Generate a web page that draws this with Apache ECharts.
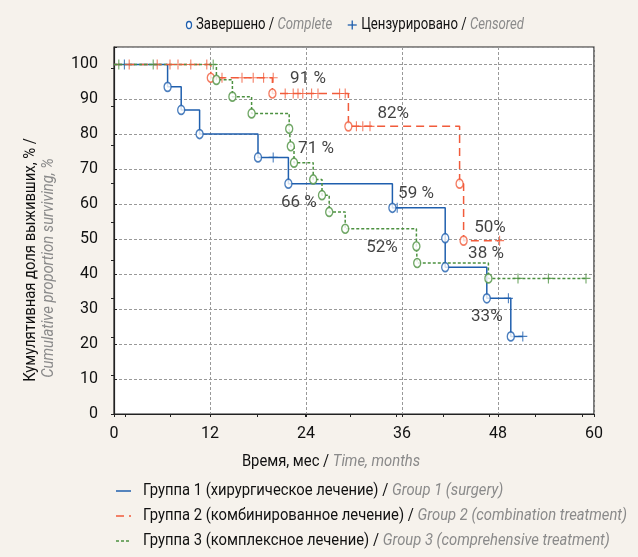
<!DOCTYPE html>
<html>
<head>
<meta charset="utf-8">
<script src="https://cdn.jsdelivr.net/npm/echarts@6/dist/echarts.min.js"></script>
<style>
  html, body { margin: 0; padding: 0; background: #f6f2ec; }
  #chart { width: 638px; height: 557px; }
</style>
</head>
<body>
<div id="chart"></div>
<script>
const FONT = 'Roboto, sans-serif';

// Group 1 (surgery): event times / survival after each event
const g1Time = [0, 6.7, 8.4, 10.7, 18.0, 21.8, 34.8, 41.4, 41.4, 46.6, 49.6];
const g1Surv = [100, 93.6, 87.0, 80.1, 73.4, 65.9, 59.0, 50.3, 42.0, 33.1, 22.2];
const g1Cens = [[1.3, 100], [19.9, 73.4], [35.4, 59.0], [49.3, 33.1], [51.1, 22.2]];

// Group 2 (combination treatment)
const g2Time = [0, 12.1, 19.8, 29.3, 43.2, 43.7];
const g2Surv = [100, 96.2, 91.7, 82.3, 65.9, 49.6];
const g2Cens = [[1.9, 100], [5.4, 100], [7.0, 100], [8.0, 100], [9.6, 100], [11.6, 100],
  [13.5, 96.2], [16.0, 96.2], [17.4, 96.2], [18.7, 96.2], [19.9, 96.2],
  [21.4, 91.7], [22.4, 91.7], [23.0, 91.7], [23.6, 91.7], [24.7, 91.7], [25.5, 91.7],
  [28.2, 91.7], [28.9, 91.7], [30.3, 82.3], [31.1, 82.3], [32.0, 82.3], [48.2, 49.6]];

// Group 3 (comprehensive treatment)
const g3Time = [0, 12.8, 14.8, 17.2, 21.9, 22.1, 22.5, 24.9, 26.0, 26.9, 28.9, 37.8, 37.9, 46.8];
const g3Surv = [100, 95.6, 90.8, 86.0, 81.6, 76.6, 71.9, 67.1, 62.6, 57.8, 53.0, 48.0, 43.2, 38.8];
const g3Cens = [[0.6, 100], [4.9, 100], [12.4, 100], [50.5, 38.8], [54.3, 38.8], [59.0, 38.8]];

// percentage annotations
const noteText = ['91 %', '82%', '71 %', '66 %', '59 %', '52%', '50%', '38 %', '33%'];
const noteX = [24.25, 34.9, 25.25, 23.1, 37.75, 33.5, 47.0, 46.5, 46.6];
const noteY = [95.8, 85.8, 75.75, 60.5, 63.1, 47.6, 53.4, 45.9, 27.8];

const groupRu = ['Группа 1 (хирургическое лечение) / ', 'Группа 2 (комбинированное лечение) / ', 'Группа 3 (комплексное лечение) / '];
const groupEn = ['Group 1 (surgery)', 'Group 2 (combination treatment)', 'Group 3 (comprehensive treatment)'];
const colors = ['#1f5fae', '#f15b3b', '#4c9140'];
const dashes = ['solid', [8, 5], [3, 2]];

const groups = [
  { t: g1Time, s: g1Surv, c: g1Cens },
  { t: g2Time, s: g2Surv, c: g2Cens },
  { t: g3Time, s: g3Surv, c: g3Cens }
];

const PLUS = 'path://M-0.6,-5L0.6,-5L0.6,-0.6L5,-0.6L5,0.6L0.6,0.6L0.6,5L-0.6,5L-0.6,0.6L-5,0.6L-5,-0.6L-0.6,-0.6Z';

const series = [];
groups.forEach((g, i) => {
  const pts = g.t.map((x, k) => [x, g.s[k]]);
  const endT = Math.max(...g.c.map(p => p[0]));
  pts.push([endT, g.s[g.s.length - 1]]);
  series.push({
    name: 'g' + (i + 1),
    type: 'line',
    step: 'end',
    symbol: 'none',
    data: pts,
    z: 2 + i,
    lineStyle: { color: colors[i], width: 1.5, type: dashes[i] }
  });
});
groups.forEach((g, i) => {
  series.push({
    type: 'scatter',
    symbol: PLUS,
    symbolSize: [9, 10],
    data: g.c,
    z: 6,
    itemStyle: { color: colors[i] }
  });
  series.push({
    type: 'scatter',
    symbol: 'circle',
    symbolSize: [7, 9],
    data: g.t.slice(1).map((x, k) => [x, g.s[k + 1]]),
    z: 7,
    itemStyle: { color: '#fff', borderColor: colors[i], borderWidth: 1.5 }
  });
});
series.push({
  type: 'scatter',
  symbolSize: 0,
  z: 8,
  data: noteText.map((n, k) => ({ name: n, value: [noteX[k], noteY[k]] })),
  label: { show: true, position: 'inside', formatter: '{b}', color: '#111', fontSize: 17, fontFamily: FONT }
});

// the reference uses a condensed face: squeeze the titles
const ctx = document.createElement('canvas').getContext('2d');
function textW(s, italic) {
  ctx.font = (italic ? 'italic ' : '') + '16px ' + FONT;
  return ctx.measureText(s).width;
}
const SQ = 484 / (textW(groupRu[1], false) + textW(groupEn[1], true));
const SQ_TOP = SQ * 0.89;

function mixed(ru, en, x, y, align, rot, sq) {
  return {
    type: 'text', x: x, y: y, rotation: rot || 0, scaleX: sq || SQ,
    style: {
      text: '{a|' + ru + '}' + (en ? '{b|' + en + '}' : ''), align: align, verticalAlign: 'middle',
      rich: {
        a: { fill: '#111', fontSize: 16, fontFamily: FONT },
        b: { fill: '#8a8a8a', fontSize: 16, fontStyle: 'italic', fontFamily: FONT }
      }
    }
  };
}
function grey(en, x, y, rot) {
  return {
    type: 'text', x: x, y: y, rotation: rot || 0, scaleX: SQ,
    style: { text: en, align: 'center', verticalAlign: 'middle', fill: '#8a8a8a', fontSize: 16, fontStyle: 'italic', fontFamily: FONT }
  };
}

const legendY = [491, 516, 541];
const doneEnd = 196 + SQ_TOP * (textW('Завершено / ', false) + textW('Complete', true));
const plusX = doneEnd + 20;
const graphics = [
  { type: 'ellipse', shape: { cx: 189, cy: 25, rx: 2.5, ry: 3.5 }, style: { fill: '#fff', stroke: colors[0], lineWidth: 1.3 } },
  mixed('Завершено / ', 'Complete', 196, 25, 'left', 0, SQ_TOP),
  { type: 'line', shape: { x1: plusX - 4.5, y1: 25, x2: plusX + 4.5, y2: 25 }, style: { stroke: colors[0], lineWidth: 1.3 } },
  { type: 'line', shape: { x1: plusX, y1: 20.5, x2: plusX, y2: 29.5 }, style: { stroke: colors[0], lineWidth: 1.3 } },
  mixed('Цензурировано / ', 'Censored', plusX + 9, 25, 'left', 0, SQ_TOP),
  mixed('Время, мес / ', 'Time, months', 331, 462, 'center'),
  mixed('Кумулятивная доля выживших, % /', '', 31, 260, 'center', Math.PI / 2),
  grey('Cumulative proportion surviving, %', 49, 268, Math.PI / 2)
];
groupRu.forEach((ru, k) => {
  graphics.push({
    type: 'line', shape: { x1: 116, y1: legendY[k], x2: 131, y2: legendY[k] },
    style: { stroke: colors[k], lineWidth: 1.5, lineDash: dashes[k] === 'solid' ? null : dashes[k] }
  });
  graphics.push(mixed(ru, groupEn[k], 143, legendY[k], 'left'));
});

const chart = echarts.init(document.getElementById('chart'), null, { renderer: 'canvas' });

chart.setOption({
  backgroundColor: '#f6f2ec',
  animation: false,
  grid: { left: 114, right: 44, top: 47, bottom: 143, show: true, backgroundColor: '#fff', borderColor: '#222', borderWidth: 1.2 },
  xAxis: [{
    type: 'value', min: 0, max: 60, interval: 12,
    axisLine: { lineStyle: { color: '#222', width: 1.2 } },
    axisTick: { length: 3, lineStyle: { color: '#222' } },
    axisLabel: { color: '#111', fontSize: 16, fontFamily: FONT, margin: 12 },
    splitLine: { show: true, lineStyle: { color: '#999', type: [3, 2] } }
  }, {
    type: 'value', min: 0, max: 60, position: 'top',
    axisLine: { show: false },
    axisTick: { inside: true, length: 3, lineStyle: { color: '#222' }, customValues: [1.4, 7.0, 12.0, 17.9, 23.9, 29.5, 35.3, 41.1, 46.9, 52.7, 58.5] },
    axisLabel: { show: false },
    splitLine: { show: false }
  }],
  yAxis: [{
    type: 'value', min: 0, max: 105, interval: 10,
    axisLine: { show: true, lineStyle: { color: '#222', width: 1.2 } },
    axisTick: { show: true, inside: true, length: 3, lineStyle: { color: '#222' } },
    axisLabel: { color: '#111', fontSize: 16, fontFamily: FONT, margin: 16, formatter: v => (v <= 100 ? String(v) : '') },
    splitLine: { show: true, lineStyle: { color: '#999', type: [3, 2] } }
  }, {
    type: 'value', min: 0, max: 105, position: 'right',
    axisLine: { show: false },
    axisTick: { show: true, inside: true, length: 3, lineStyle: { color: '#222' }, customValues: [0, 11, 22, 33, 44, 55, 66, 77, 88, 99] },
    axisLabel: { show: false },
    splitLine: { show: false }
  }],
  graphic: graphics,
  series: series
});
</script>
</body>
</html>
